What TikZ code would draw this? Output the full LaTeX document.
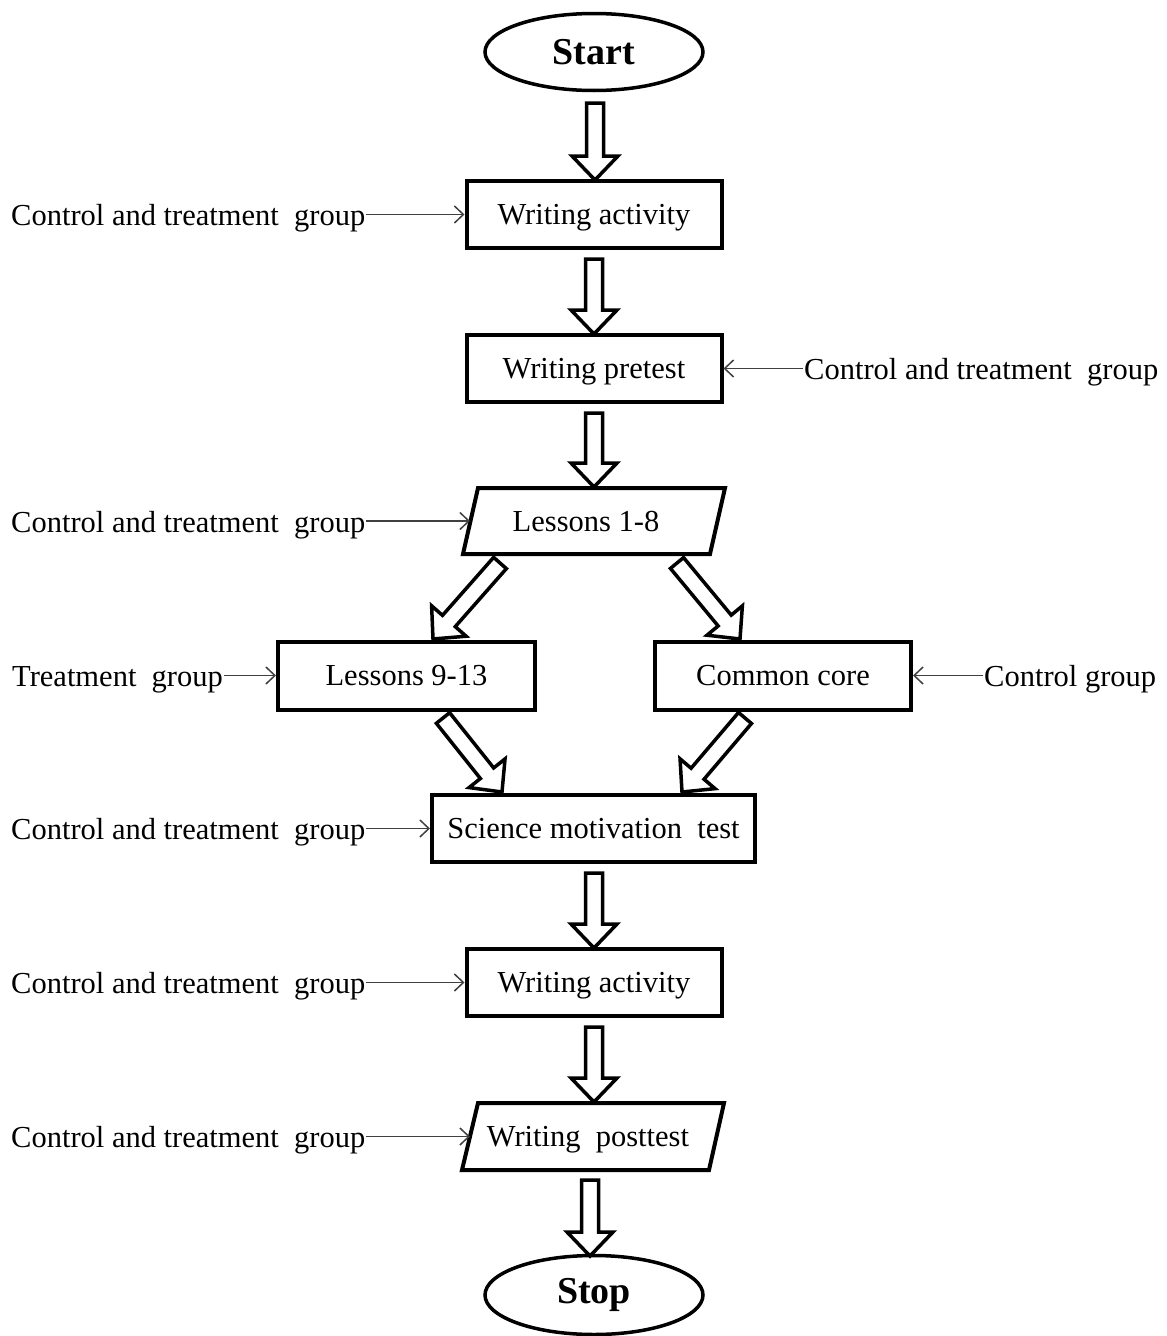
\documentclass[tikz,border=0pt]{standalone}
\usepackage{fontspec}
\setmainfont{Liberation Serif}
\usetikzlibrary{calc,arrows.meta,shapes.geometric}
\newcommand\barr[2]{%
  \coordinate (bh) at ($(#2)!24pt!(#1)$);
  \draw[blockarrow] ($(#1)!8.5pt!90:(#2)$) -- ($(bh)!8.5pt!90:(#2)$) -- ($(bh)!23pt!90:(#2)$) -- (#2)
    -- ($(bh)!23pt!-90:(#2)$) -- ($(bh)!8.5pt!-90:(#2)$) -- ($(#1)!8.5pt!-90:(#2)$) -- cycle;}
\begin{document}
\begin{tikzpicture}[x=1pt,y=-1pt,
  every node/.style={font=\fontsize{30.5}{36}\selectfont},
  box/.style={draw, line width=4pt, minimum width=255pt, minimum height=67pt, inner sep=0pt,
    text height=21pt, text depth=1pt},
  para/.style={minimum width=247pt, minimum height=66pt, inner sep=0pt, text height=21pt, text depth=1pt},
  paraline/.style={line width=4pt, line join=miter},
  term/.style={draw, ellipse, line width=3.5pt, inner sep=0pt, minimum width=218pt, minimum height=77pt,
    font=\fontsize{38}{44}\selectfont\bfseries},
  lbl/.style={inner sep=1pt},
  thin/.style={line width=1.5pt, draw=black!75, -{Straight Barb[length=9pt,width=17pt,line width=1.5pt]}},
  blockarrow/.style={draw, line width=3.5pt, fill=white, line join=miter}
]
\useasboundingbox (0,0) rectangle (1167,1336);

% main nodes
\node[term] (start) at (594,52) {Start};
\node[box] (wa1) at (594,214.5) {Writing activity};
\node[box] (wp) at (594,368.5) {Writing pretest};
\node[para] (l18) at (586,521) {Lessons 1-8};
\draw[paraline] ($(l18.center)+(-108,-33)$) -- ($(l18.center)+(139,-33)$) -- ($(l18.center)+(124,33)$) -- ($(l18.center)+(-123,33)$) -- cycle;
\node[box, minimum width=257pt, minimum height=68pt] (l913) at (406.5,675.5) {Lessons 9-13};
\node[box, minimum width=256pt, minimum height=68pt] (cc) at (783,675.5) {Common core};
\node[box, minimum width=323pt] (smt) at (593.5,828.5) {Science motivation\ \ test};
\node[box] (wa2) at (594,982.5) {Writing activity};
\node[para] (wpt) at (588,1136.5) {Writing\ \ posttest};
\draw[paraline] ($(wpt.center)+(-110,-33.5)$) -- ($(wpt.center)+(136,-33.5)$) -- ($(wpt.center)+(121,33.5)$) -- ($(wpt.center)+(-126,33.5)$) -- cycle;
\node[term, minimum height=79pt] (stop) at (594,1295) {Stop};

% block arrows
\coordinate (t1) at (595,103); \coordinate (p1) at (595,180);
\coordinate (t2) at (594,259); \coordinate (p2) at (594,334);
\coordinate (t3) at (594,413); \coordinate (p3) at (594,487);
\coordinate (t4) at (500,563); \coordinate (p4) at (433,639);
\coordinate (t5) at (677,563); \coordinate (p5) at (740,639);
\coordinate (t6) at (443,718); \coordinate (p6) at (502,792);
\coordinate (t7) at (745,718); \coordinate (p7) at (682,792);
\coordinate (t8) at (594,873); \coordinate (p8) at (594,948);
\coordinate (t9) at (594,1027); \coordinate (p9) at (594,1102);
\coordinate (t10) at (590,1180); \coordinate (p10) at (590,1256);
\foreach \i in {1,...,10} {\barr{t\i}{p\i}}

% side labels
\node[lbl, anchor=base west] (c1) at (10,225) {Control and treatment\ \ group};
\draw[thin] (c1.east |- wa1.west) -- (wa1.west);
\node[lbl, anchor=base west] (c2) at (803,379) {Control and treatment\ \ group};
\draw[thin] (c2.west |- wp.east) -- (wp.east);
\node[lbl, anchor=base west] (c3) at (10,532) {Control and treatment\ \ group};
\coordinate (l18w) at ($(l18.center)+(-116,0)$);
\draw[thin] (c3.east |- l18w) -- (l18w);
\node[lbl, anchor=base west] (tg) at (11,686) {Treatment\ \ group};
\draw[thin] (tg.east |- l913.west) -- (l913.west);
\node[lbl, anchor=base west] (cg) at (983,686) {Control group};
\draw[thin] (cg.west |- cc.east) -- (cc.east);
\node[lbl, anchor=base west] (c4) at (10,839) {Control and treatment\ \ group};
\draw[thin] (c4.east |- smt.west) -- (smt.west);
\node[lbl, anchor=base west] (c5) at (10,993) {Control and treatment\ \ group};
\draw[thin] (c5.east |- wa2.west) -- (wa2.west);
\node[lbl, anchor=base west] (c6) at (10,1147) {Control and treatment\ \ group};
\coordinate (wptw) at ($(wpt.center)+(-118,0)$);
\draw[thin] (c6.east |- wptw) -- (wptw);
\end{tikzpicture}
\end{document}
